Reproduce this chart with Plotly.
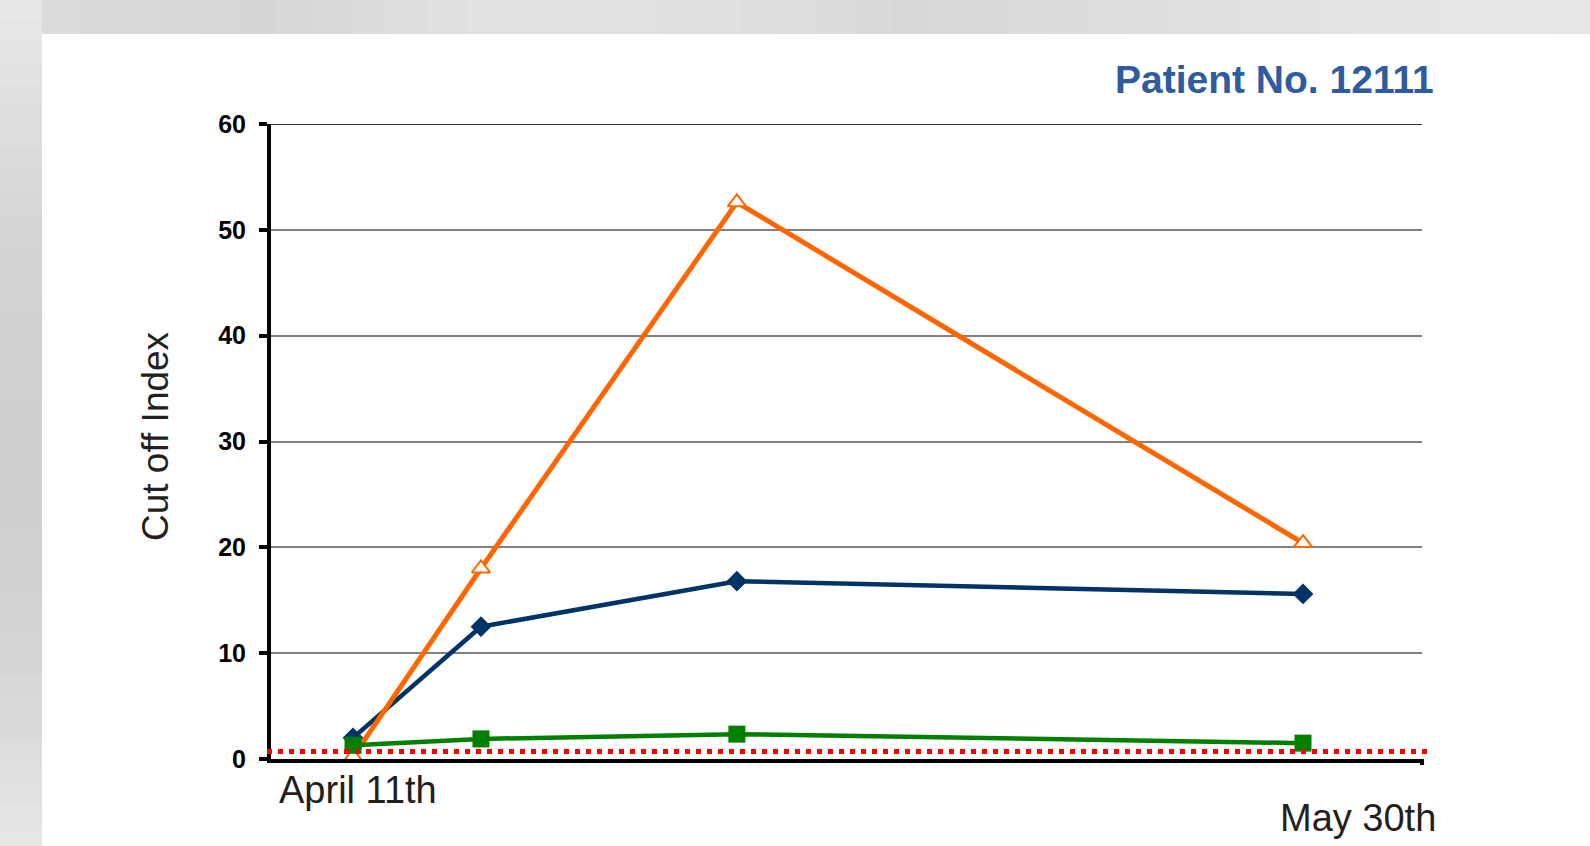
import plotly.graph_objects as go

# Sampling days, counted from April 11th
days = [0, 6.6, 19.8, 49]

# Cut off index values per marker
series_blue = [2.0, 12.5, 16.8, 15.6]
series_orange = [0.2, 18.0, 52.6, 20.4]
series_green = [1.3, 1.9, 2.35, 1.5]

cutoff_level = 0.7

y_ticks = [0, 10, 20, 30, 40, 50, 60]
date_first = "April 11th"
date_last = "May 30th"
title_text = "Patient No. 12111"
y_title = "Cut off Index"

W, H = 1590, 846
L, R, T, B = 271, 168, 124, 87
plot_w = W - L - R
plot_h = H - T - B


def px_x(px):
    return (px - L) / plot_w


def px_y(py):
    return (H - B - py) / plot_h


def grey(level):
    v = int(round(level))
    return f"rgb({v},{v},{v})"


def lerp_stops(stops, t):
    # piecewise-linear blend between grey stops (t in 0..1)
    seg = t * (len(stops) - 1)
    i = min(int(seg), len(stops) - 2)
    f = seg - i
    return stops[i] + (stops[i + 1] - stops[i]) * f


fig = go.Figure()

fig.add_trace(go.Scatter(
    x=days, y=series_blue, mode="lines+markers",
    line=dict(color="#003366", width=4.5),
    marker=dict(symbol="diamond", size=16, color="#003366"),
    cliponaxis=False, showlegend=False,
))
fig.add_trace(go.Scatter(
    x=days, y=series_orange, mode="lines+markers",
    line=dict(color="#ff6600", width=5),
    marker=dict(symbol="triangle-up", size=16, color="white",
                line=dict(color="#ff6600", width=2)),
    cliponaxis=False, showlegend=False,
))
fig.add_trace(go.Scatter(
    x=days, y=series_green, mode="lines+markers",
    line=dict(color="#008000", width=4.5),
    marker=dict(symbol="square", size=17, color="#008000"),
    cliponaxis=False, showlegend=False,
))

shapes = []

# soft grey frame around the white panel
n_strips = 40
top_stops = [220, 214, 226, 224, 216, 222, 228, 230]
for i in range(n_strips):
    t = (i + 0.5) / n_strips
    x_a = 42 + i * (W - 42) / n_strips
    x_b = 42 + (i + 1) * (W - 42) / n_strips + 1
    shapes.append(dict(type="rect", xref="paper", yref="paper", layer="below",
                       x0=px_x(x_a), x1=px_x(x_b), y0=px_y(34), y1=px_y(-5),
                       fillcolor=grey(lerp_stops(top_stops, t)), line=dict(width=0)))
left_stops = [232, 222, 212, 208, 206, 210, 218, 230]
for i in range(n_strips):
    t = (i + 0.5) / n_strips
    y_a = i * H / n_strips
    y_b = (i + 1) * H / n_strips + 1
    shapes.append(dict(type="rect", xref="paper", yref="paper", layer="below",
                       x0=px_x(-5), x1=px_x(42), y0=px_y(y_b), y1=px_y(y_a),
                       fillcolor=grey(lerp_stops(left_stops, t)), line=dict(width=0)))

shapes += [
    # white panel behind the chart
    dict(type="rect", xref="paper", yref="paper", layer="below",
         x0=px_x(42), x1=px_x(W + 5), y0=px_y(H + 5), y1=px_y(34),
         fillcolor="white", line=dict(width=0)),
    # darker top grid line
    dict(type="line", xref="paper", yref="y", x0=0, x1=1, y0=60, y1=60,
         line=dict(color="#333333", width=2), layer="below"),
    # cut-off threshold
    dict(type="line", xref="paper", yref="y", x0=px_x(267), x1=px_x(1432),
         y0=cutoff_level, y1=cutoff_level,
         line=dict(color="#ff0000", width=5, dash="5px,6px")),
    # end tick of the x axis
    dict(type="line", xref="paper", yref="paper", x0=1, x1=1,
         y0=0, y1=px_y(765), line=dict(color="black", width=4)),
]

annotations = [
    dict(text=title_text, xref="paper", yref="paper", x=px_x(1436), y=px_y(80),
         xanchor="right", yanchor="middle", showarrow=False,
         font=dict(family="Liberation Sans, Arial", size=39, color="#2f5b9f", weight="bold")),
    dict(text=date_first, xref="x", yref="paper", x=days[0], xshift=5, y=px_y(790),
         xanchor="center", yanchor="middle", showarrow=False,
         font=dict(family="Liberation Sans, Arial", size=38, color="#231f20")),
    dict(text=date_last, xref="paper", yref="paper", x=px_x(1438), y=px_y(818),
         xanchor="right", yanchor="middle", showarrow=False,
         font=dict(family="Liberation Sans, Arial", size=38, color="#231f20")),
    dict(text=y_title, xref="paper", yref="paper", x=px_x(155), y=px_y(436),
         xanchor="center", yanchor="middle", textangle=-90, showarrow=False,
         font=dict(family="Liberation Sans, Arial", size=37, color="#231f20")),
]

x0_px, x1_px = 353, 1303
per_day = (x1_px - x0_px) / (days[-1] - days[0])
x_range = [days[0] - (x0_px - L) / per_day, days[0] + (L + plot_w - x0_px) / per_day]

fig.update_layout(
    width=W, height=H,
    margin=dict(l=L, r=R, t=T, b=B, pad=0),
    paper_bgcolor="#dcdcdc",
    plot_bgcolor="white",
    shapes=shapes,
    annotations=annotations,
    xaxis=dict(range=x_range, showgrid=False, zeroline=False, showline=True,
               linecolor="black", linewidth=4, showticklabels=False, ticks=""),
    yaxis=dict(range=[0, 60], tickvals=y_ticks, showgrid=True, gridcolor="#808080",
               gridwidth=2, zeroline=False, showline=True, linecolor="black",
               linewidth=4, ticks="outside", ticklen=8, tickwidth=4, tickcolor="black",
               ticklabelstandoff=8,
               tickfont=dict(family="Liberation Sans, Arial", size=25, color="black",
                             weight="bold")),
)

fig.write_html("out.html")
